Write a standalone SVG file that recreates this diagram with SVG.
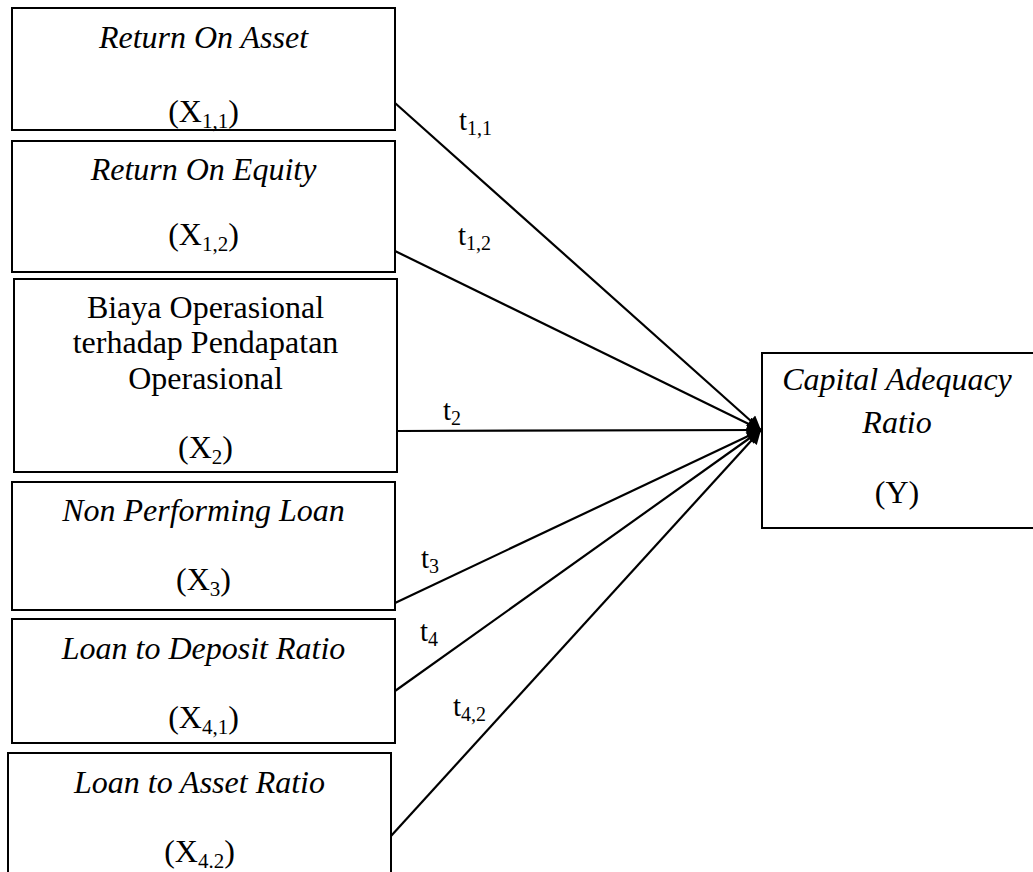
<svg xmlns="http://www.w3.org/2000/svg" width="1033" height="872" viewBox="0 0 1033 872" font-family="'Liberation Serif', 'DejaVu Serif', serif">
<style>
.box{fill:#fff;stroke:#000;stroke-width:2}
text{font-family:'Liberation Serif','DejaVu Serif',serif;fill:#000}
.t{font-size:32px;text-anchor:middle}
.i{font-style:italic}
.lbl{font-size:29px}
.conn line{stroke:#000;stroke-width:2.2;marker-end:url(#ah)}
</style>
<defs>
<marker id="ah" viewBox="0 0 10 10" refX="10" refY="5" markerWidth="16" markerHeight="14" markerUnits="userSpaceOnUse" orient="auto">
<path d="M0,0 L10,5 L0,10 z" fill="#000"/>
</marker>
</defs>
<rect width="1033" height="872" fill="#fff"/>
<g id="n1"><rect class="box" x="12" y="8" width="383" height="122"/>
<text class="t i" x="203.5" y="48">Return On Asset</text>
<text class="t" x="203.5" y="122">(X<tspan font-size="21" dy="6">1,1</tspan><tspan dy="-6">)</tspan></text></g>
<g id="n2"><rect class="box" x="12" y="141" width="383" height="131"/>
<text class="t i" x="203.5" y="180">Return On Equity</text>
<text class="t" x="203.5" y="245">(X<tspan font-size="21" dy="6">1,2</tspan><tspan dy="-6">)</tspan></text></g>
<g id="n3"><rect class="box" x="14" y="279" width="383" height="193"/>
<text class="t" x="205.5" y="318">Biaya Operasional</text>
<text class="t" x="205.5" y="353">terhadap Pendapatan</text>
<text class="t" x="205.5" y="389">Operasional</text>
<text class="t" x="205.5" y="458">(X<tspan font-size="21" dy="6">2</tspan><tspan dy="-6">)</tspan></text></g>
<g id="n4"><rect class="box" x="12" y="482" width="383" height="128"/>
<text class="t i" x="203.5" y="521">Non Performing Loan</text>
<text class="t" x="203.5" y="590">(X<tspan font-size="21" dy="6">3</tspan><tspan dy="-6">)</tspan></text></g>
<g id="n5"><rect class="box" x="12" y="619" width="383" height="124"/>
<text class="t i" x="203.5" y="659">Loan to Deposit Ratio</text>
<text class="t" x="203.5" y="728">(X<tspan font-size="21" dy="6">4,1</tspan><tspan dy="-6">)</tspan></text></g>
<g id="n6"><rect class="box" x="8" y="753" width="383" height="130"/>
<text class="t i" x="199.5" y="793">Loan to Asset Ratio</text>
<text class="t" x="199.5" y="862">(X<tspan font-size="21" dy="6">4.2</tspan><tspan dy="-6">)</tspan></text></g>
<g id="ny"><rect class="box" x="762" y="353" width="280" height="175"/>
<text class="t i" x="897" y="390">Capital Adequacy</text>
<text class="t i" x="897" y="433">Ratio</text>
<text class="t" x="897" y="503">(Y)</text></g>
<g id="connectors" class="conn">
<line x1="395" y1="103" x2="761" y2="430"/>
<line x1="395" y1="251" x2="761" y2="430"/>
<line x1="397" y1="431" x2="761" y2="430"/>
<line x1="395" y1="603" x2="761" y2="430"/>
<line x1="395" y1="691" x2="761" y2="430"/>
<line x1="391" y1="836" x2="761" y2="430"/>
</g>
<g id="labels">
<text class="lbl" x="459" y="130">t<tspan font-size="20" dy="5">1,1</tspan></text>
<text class="lbl" x="458" y="245">t<tspan font-size="20" dy="5">1,2</tspan></text>
<text class="lbl" x="443" y="420">t<tspan font-size="20" dy="5">2</tspan></text>
<text class="lbl" x="421" y="568">t<tspan font-size="20" dy="5">3</tspan></text>
<text class="lbl" x="420" y="641">t<tspan font-size="20" dy="5">4</tspan></text>
<text class="lbl" x="453" y="716">t<tspan font-size="20" dy="5">4,2</tspan></text>
</g>
</svg>
